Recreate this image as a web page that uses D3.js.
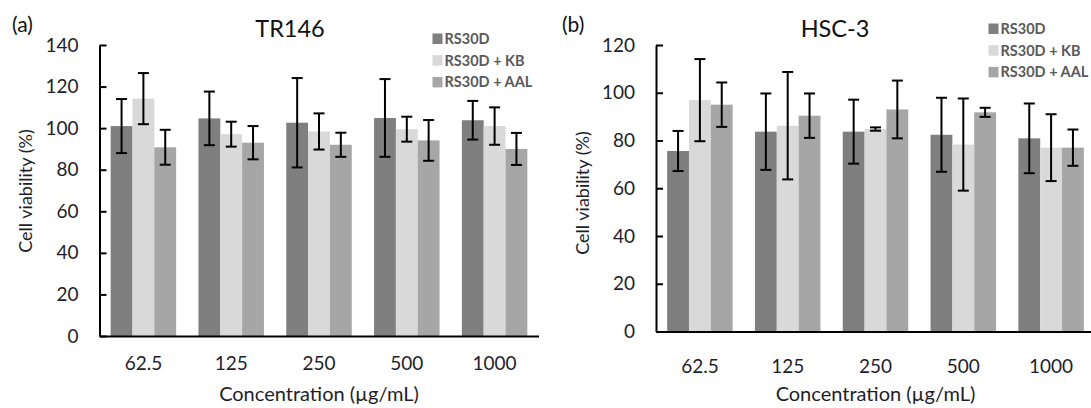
<!DOCTYPE html>
<html>
<head>
<meta charset="utf-8">
<script src="https://cdn.jsdelivr.net/npm/d3@7"></script>
<style>
  html, body { margin: 0; padding: 0; background: #fff; }
  svg { display: block; font-family: Lato, "Open Sans", sans-serif; }
</style>
</head>
<body>
<svg id="chart" width="1091" height="408"></svg>
<script>
// Concentrations tested (µg/mL) and treatment groups
const concentrations = ["62.5", "125", "250", "500", "1000"];
const seriesNames = ["RS30D", "RS30D + KB", "RS30D + AAL"];
const seriesColors = ["#7f7f7f", "#d9d9d9", "#a6a6a6"];

// TR146 cell viability (%), mean and SD
const tr146RS30D    = [101.0, 104.7, 102.6, 104.9, 103.8];
const tr146RS30DSd  = [13.0, 12.9, 21.5, 18.7, 9.3];
const tr146KB       = [114.2, 97.1, 98.4, 99.5, 101.0];
const tr146KBSd     = [12.3, 6.0, 8.7, 6.0, 9.0];
const tr146AAL      = [90.8, 93.0, 92.0, 94.1, 90.0];
const tr146AALSd    = [8.4, 8.0, 5.8, 9.8, 7.7];
const tr146Ticks    = [0, 20, 40, 60, 80, 100, 120, 140];

// HSC-3 cell viability (%), mean and SD
const hsc3RS30D     = [75.6, 83.7, 83.7, 82.4, 80.9];
const hsc3RS30DSd   = [8.4, 16.0, 13.4, 15.5, 14.6];
const hsc3KB        = [96.9, 86.2, 84.8, 78.3, 77.0];
const hsc3KBSd      = [17.2, 22.5, 0.7, 19.3, 14.0];
const hsc3AAL       = [95.0, 90.4, 93.0, 91.8, 77.0];
const hsc3AALSd     = [9.3, 9.3, 12.1, 1.9, 7.6];
const hsc3Ticks     = [0, 20, 40, 60, 80, 100, 120];

const svg = d3.select("#chart");
const labelColor = "#1e1e2a";

function buildRows(means, sds) {
  const rows = [];
  concentrations.forEach((c, i) => {
    means.forEach((m, s) => {
      rows.push({ conc: c, series: seriesNames[s], color: seriesColors[s], mean: m[i], sd: sds[s][i] });
    });
  });
  return rows;
}

function drawPanel(opt) {
  const g = svg.append("g");
  const x = d3.scaleBand()
    .domain(concentrations)
    .range([opt.x0, opt.x1])
    .paddingInner(0.254)
    .paddingOuter(0.127);
  const xs = d3.scaleBand()
    .domain(seriesNames)
    .range([0, x.bandwidth()]);
  const y = d3.scaleLinear()
    .domain([0, d3.max(opt.ticks)])
    .range([opt.y0, opt.yTop]);

  const rows = buildRows(opt.means, opt.sds);

  // bars
  g.append("g").selectAll("rect")
    .data(rows)
    .join("rect")
    .attr("x", d => x(d.conc) + xs(d.series))
    .attr("width", xs.bandwidth())
    .attr("y", d => y(d.mean))
    .attr("height", d => y(0) - y(d.mean))
    .attr("fill", d => d.color);

  // error bars (± SD)
  const eb = g.append("g")
    .attr("stroke", "#000")
    .attr("stroke-width", 2)
    .selectAll("g")
    .data(rows)
    .join("g")
    .attr("transform", d => `translate(${x(d.conc) + xs(d.series) + xs.bandwidth() / 2},0)`);
  eb.append("line")
    .attr("y1", d => y(d.mean + d.sd))
    .attr("y2", d => y(d.mean - d.sd));
  eb.append("line")
    .attr("x1", -5.5).attr("x2", 5.5)
    .attr("y1", d => y(d.mean + d.sd))
    .attr("y2", d => y(d.mean + d.sd));
  eb.append("line")
    .attr("x1", -5.5).attr("x2", 5.5)
    .attr("y1", d => y(d.mean - d.sd))
    .attr("y2", d => y(d.mean - d.sd));

  // y axis
  const ya = g.append("g")
    .attr("transform", `translate(${opt.x0},0)`)
    .call(d3.axisLeft(y).tickValues(opt.ticks).tickSizeInner(-7).tickSizeOuter(0).tickPadding(21));
  ya.select(".domain").attr("stroke-width", 2);
  ya.selectAll(".tick line").attr("stroke-width", 2);
  ya.selectAll(".tick text")
    .attr("font-size", 19)
    .attr("font-family", "Lato")
    .attr("fill", labelColor);

  // x axis
  const xa = g.append("g")
    .attr("transform", `translate(0,${opt.y0})`)
    .call(d3.axisBottom(x).tickSize(0).tickPadding(opt.xPad));
  xa.select(".domain").attr("stroke-width", 2.2);
  xa.selectAll(".tick text")
    .attr("font-size", 19)
    .attr("font-family", "Lato")
    .attr("fill", labelColor);

  // titles
  g.append("text")
    .attr("x", opt.titleX).attr("y", 36.5)
    .attr("text-anchor", "middle")
    .attr("font-size", 23.5)
    .attr("fill", "#111")
    .text(opt.title);
  g.append("text")
    .attr("x", opt.tagX).attr("y", 31.5)
    .attr("font-size", 21)
    .attr("fill", "#111")
    .text(opt.tag);
  g.append("text")
    .attr("transform", `translate(${opt.yTitleX},${opt.yTitleY}) rotate(-90)`)
    .attr("text-anchor", "middle")
    .attr("font-size", 18)
    .attr("fill", labelColor)
    .text("Cell viability (%)");
  g.append("text")
    .attr("x", (opt.x0 + opt.x1) / 2).attr("y", 401)
    .attr("text-anchor", "middle")
    .attr("font-size", 20)
    .attr("fill", labelColor)
    .text("Concentration (\u00b5g/mL)");

  // legend
  const lg = g.append("g")
    .selectAll("g")
    .data(seriesNames)
    .join("g")
    .attr("transform", (d, i) => `translate(${opt.legendX},${opt.legendY + i * 21.7})`);
  lg.append("rect")
    .attr("width", 10).attr("height", 10.5)
    .attr("fill", (d, i) => seriesColors[i]);
  lg.append("text")
    .attr("x", 12).attr("y", 10.5)
    .attr("font-size", 14.5)
    .attr("font-weight", "bold")
    .attr("fill", "#595959")
    .text(d => d);
}

drawPanel({
  means: [tr146RS30D, tr146KB, tr146AAL],
  sds: [tr146RS30DSd, tr146KBSd, tr146AALSd],
  ticks: tr146Ticks,
  x0: 99.5, x1: 538.5, y0: 336, yTop: 45,
  xPad: 21,
  title: "TR146", titleX: 290,
  tag: "(a)", tagX: 12,
  yTitleX: 32, yTitleY: 191,
  legendX: 432.5, legendY: 33.5
});

drawPanel({
  means: [hsc3RS30D, hsc3KB, hsc3AAL],
  sds: [hsc3RS30DSd, hsc3KBSd, hsc3AALSd],
  ticks: hsc3Ticks,
  x0: 656, x1: 1095, y0: 331.5, yTop: 45,
  xPad: 28,
  title: "HSC-3", titleX: 835,
  tag: "(b)", tagX: 562,
  yTitleX: 589, yTitleY: 193,
  legendX: 988.5, legendY: 23.5
});
</script>
</body>
</html>
